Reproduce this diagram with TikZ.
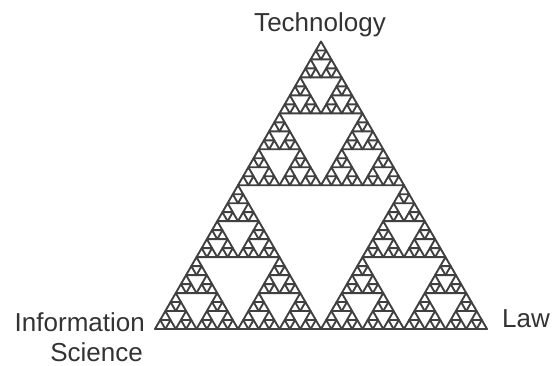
\documentclass[tikz,border=0pt]{standalone}
\usepackage{fontspec}
\setmainfont{Liberation Sans}
\begin{document}
\begin{tikzpicture}[x=1pt,y=1pt,
  declare function={ddx(\d)=(\d==1)+0.5*(\d==2); ddy(\d)=0.8660254*(\d==2);},
  tri/.style={draw=black!75,line width=1.9pt,line join=round},
  lbl/.style={text=black!80,font=\fontsize{26}{31}\selectfont,inner sep=0pt}]
\useasboundingbox (0,0) rectangle (552,366);
\foreach \a in {0,1,2}{
 \foreach \b in {0,1,2}{
  \foreach \c in {0,1,2}{
   \foreach \d in {0,1,2}{
    \foreach \e in {0,1,2}{
     \pgfmathsetmacro\px{155+166*ddx(\a)+83*ddx(\b)+41.5*ddx(\c)+20.75*ddx(\d)+10.375*ddx(\e)}
     \pgfmathsetmacro\py{37+166*ddy(\a)+83*ddy(\b)+41.5*ddy(\c)+20.75*ddy(\d)+10.375*ddy(\e)}
     \draw[tri] (\px,\py) -- ++(10.375,0) -- ++(120:10.375) -- cycle;
    }}}}}
\node[lbl,anchor=base] (tech) at (320,334) {Technology};
\node[lbl,anchor=base east] (info) at (145,34) {Information};
\node[lbl,anchor=base east] (sci) at (143,4.5) {Science};
\node[lbl,anchor=base west] (law) at (502,38) {Law};
\end{tikzpicture}
\end{document}
